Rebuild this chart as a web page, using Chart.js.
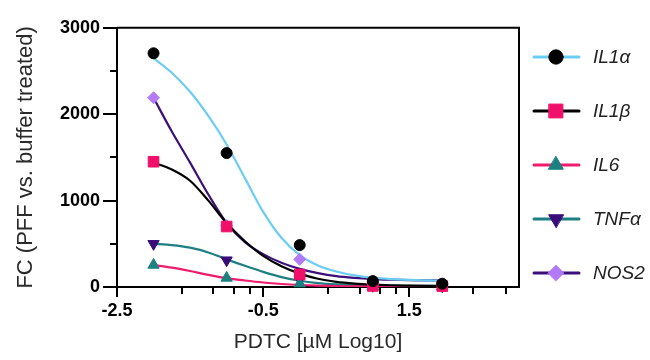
<!DOCTYPE html>
<html>
<head>
<meta charset="utf-8">
<script src="https://cdn.jsdelivr.net/npm/chart.js@4.4.1/dist/chart.umd.min.js"></script>
<style>
    html, body { margin: 0; padding: 0; background: #fff; }
    #wrap { width: 650px; height: 360px; }
</style>
</head>
<body>
<div id="wrap"><canvas id="fcChart" width="650" height="360"></canvas></div>
<script>
// Doses (log10 µM) and measured fold changes
const doseLog = [-2, -1, 0, 1, 1.95];
const il1a = [2705, 1550, 485, 68, 38];
const il1b = [1450, 700, 145, 12, 10];
const il6 = [255, 105, 40, 6, 4];
const tnfa = [500, 310, 90, 15, 10];
const nos2 = [2190, 710, 320, 40, 30];

// Fitted curves
const fitDose = [-2, -1.75, -1.5, -1.25, -1, -0.75, -0.5, -0.25, 0, 0.25, 0.5, 0.75, 1, 1.25, 1.5, 1.75, 1.95];
const fitIl1a = [2650, 2480, 2260, 1980, 1650, 1260, 870, 570, 370, 250, 180, 135, 108, 92, 82, 76, 72];
const fitIl1b = [1440, 1360, 1230, 1000, 740, 530, 360, 240, 155, 95, 60, 40, 28, 20, 16, 13, 12];
const fitIl6 = [255, 225, 185, 140, 102, 75, 52, 35, 23, 15, 10, 7, 6, 5, 4, 4, 4];
const fitTnfa = [500, 485, 455, 400, 320, 245, 175, 115, 72, 45, 30, 22, 18, 15, 13, 12, 11];
const fitNos2 = [2190, 1800, 1440, 1070, 740, 520, 380, 280, 210, 160, 125, 105, 92, 85, 80, 77, 75];

const seriesNames = ['IL1α', 'IL1β', 'IL6', 'TNFα', 'NOS2'];

// Axis ticks
const xTickValues = [-2.5, -1.61, -1.18, -0.9, -0.68, -0.5, 0.39, 0.82, 1.1, 1.32, 1.5, 2.37, 2.82];
const xTickLabels = ['-2.5', '-0.5', '1.5'];
const yTickValues = [0, 500, 1000, 1500, 2000, 2500, 3000];
const yTickLabels = ['0', '1000', '2000', '3000'];

const series = [
    { name: seriesNames[0], pts: il1a, fit: fitIl1a, line: '#6CCDF4', mark: '#000000', style: 'circle', r: 5.5 },
    { name: seriesNames[1], pts: il1b, fit: fitIl1b, line: '#000000', mark: '#F0106A', style: 'rect', r: 7.5 },
    { name: seriesNames[2], pts: il6, fit: fitIl6, line: '#EE1C6C', mark: '#1B8080', style: 'triangle', r: 6.5 },
    { name: seriesNames[3], pts: tnfa, fit: fitTnfa, line: '#1D7F80', mark: '#3A0B78', style: 'triangle', r: 6.5, rot: 180 },
    { name: seriesNames[4], pts: nos2, fit: fitNos2, line: '#3D0F78', mark: '#B27AF6', style: 'rectRot', r: 6 }
];

function toXY(xs, ys) {
    return xs.map((x, i) => ({ x: x, y: ys[i] }));
}

const datasets = [];
series.forEach(s => {
    datasets.push({
        label: s.name + ' fit',
        data: toXY(fitDose, s.fit),
        showLine: true,
        borderColor: s.line,
        borderWidth: 2.2,
        pointRadius: 0,
        cubicInterpolationMode: 'monotone',
        order: 2
    });
});
series.forEach(s => {
    datasets.push({
        label: s.name,
        data: toXY(doseLog, s.pts),
        showLine: false,
        pointStyle: s.style,
        pointRotation: s.rot || 0,
        pointRadius: s.r,
        backgroundColor: s.mark,
        borderColor: s.mark,
        pointBorderWidth: 1,
        clip: false,
        order: 1
    });
});

// Top and right frame lines
const framePlugin = {
    id: 'frame',
    beforeDatasetsDraw(chart) {
        const { ctx, chartArea: a } = chart;
        ctx.save();
        ctx.strokeStyle = '#000';
        ctx.lineWidth = 2;
        ctx.beginPath();
        ctx.moveTo(a.left, a.top);
        ctx.lineTo(a.right, a.top);
        ctx.lineTo(a.right, a.bottom);
        ctx.stroke();
        ctx.restore();
    }
};

// Tick marks of two lengths (major / minor)
const tickPlugin = {
    id: 'tickMarks',
    afterDraw(chart) {
        const { ctx, chartArea: a } = chart;
        const xs = chart.scales.x, ys = chart.scales.y;
        ctx.save();
        ctx.strokeStyle = '#000';
        ctx.lineWidth = 2;
        xTickValues.forEach(v => {
            const px = Math.round(xs.getPixelForValue(v));
            const len = xTickLabels.includes(String(v)) ? 10 : 7;
            ctx.beginPath();
            ctx.moveTo(px, a.bottom);
            ctx.lineTo(px, a.bottom + len);
            ctx.stroke();
        });
        yTickValues.forEach(v => {
            const py = Math.round(ys.getPixelForValue(v));
            const len = yTickLabels.includes(String(v)) ? 14 : 7;
            ctx.beginPath();
            ctx.moveTo(a.left, py);
            ctx.lineTo(a.left - len, py);
            ctx.stroke();
        });
        ctx.restore();
    }
};

// Legend on the right: line + marker + italic name
const legendPlugin = {
    id: 'sideLegend',
    afterDraw(chart) {
        const ctx = chart.ctx;
        const x0 = 534, x1 = 579, xm = 556, xt = 593;
        ctx.save();
        series.forEach((s, i) => {
            const y = 57 + i * 54;
            ctx.strokeStyle = s.line;
            ctx.lineWidth = 3;
            ctx.lineCap = 'round';
            ctx.beginPath();
            ctx.moveTo(x0, y);
            ctx.lineTo(x1, y);
            ctx.stroke();
            ctx.fillStyle = s.mark;
            ctx.strokeStyle = s.mark;
            ctx.lineWidth = 1;
            Chart.helpers.drawPoint(ctx, { pointStyle: s.style, radius: s.r * 1.3, rotation: s.rot || 0, borderWidth: 1 }, xm, y);
            ctx.fillStyle = '#222';
            ctx.font = 'italic 19px "Liberation Sans", Arial, sans-serif';
            ctx.textBaseline = 'middle';
            ctx.textAlign = 'left';
            ctx.fillText(s.name, xt, y + 1);
        });
        ctx.restore();
    }
};

const tickFont = { family: '"Liberation Sans", Arial, sans-serif', size: 18, weight: 'bold' };
const titleFont = { family: '"Liberation Sans", Arial, sans-serif', size: 21 };

new Chart(document.getElementById('fcChart'), {
    type: 'scatter',
    data: { datasets: datasets },
    options: {
        responsive: false,
        animation: false,
        layout: { padding: { top: 17, right: 131, bottom: 0, left: 0 } },
        plugins: {
            legend: { display: false },
            tooltip: { enabled: false }
        },
        scales: {
            x: {
                type: 'linear',
                min: -2.5,
                max: 3,
                afterBuildTicks: scale => {
                    scale.ticks = xTickValues.map(v => ({ value: v }));
                },
                afterFit: scale => { scale.height = 73; },
                grid: { display: false, drawTicks: false },
                border: { display: true, color: '#000', width: 2 },
                ticks: {
                    autoSkip: false,
                    maxRotation: 0,
                    padding: 13,
                    color: '#000',
                    font: tickFont,
                    callback: v => (xTickLabels.includes(String(v)) ? String(v) : '')
                },
                title: {
                    display: true,
                    text: 'PDTC [µM Log10]',
                    color: '#2a2a2a',
                    font: titleFont,
                    padding: { top: 0, bottom: 5 }
                }
            },
            y: {
                min: 0,
                max: 3000,
                afterBuildTicks: scale => {
                    scale.ticks = yTickValues.map(v => ({ value: v }));
                },
                afterFit: scale => { scale.width = 117; },
                grid: { display: false, drawTicks: false },
                border: { display: true, color: '#000', width: 2 },
                ticks: {
                    padding: 17,
                    color: '#000',
                    font: tickFont,
                    callback: v => (yTickLabels.includes(String(v)) ? String(v) : '')
                },
                title: {
                    display: true,
                    text: 'FC (PFF vs. buffer treated)',
                    color: '#2a2a2a',
                    font: { family: titleFont.family, size: 22 },
                    padding: { top: 13, bottom: 0 }
                }
            }
        }
    },
    plugins: [framePlugin, tickPlugin, legendPlugin]
});
</script>
</body>
</html>
